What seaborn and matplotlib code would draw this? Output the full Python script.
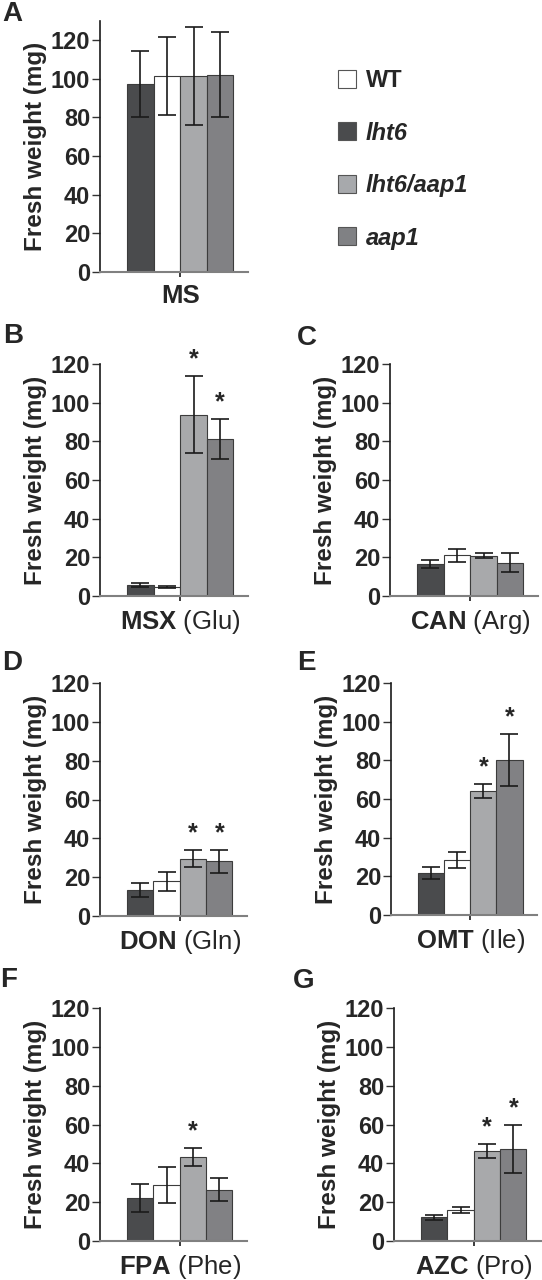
import numpy as np
import pandas as pd
import matplotlib
matplotlib.use("Agg")
import matplotlib.pyplot as plt
from matplotlib.patches import Patch
import seaborn as sns

# ---------------- data ----------------
bar_order = ["lht6", "WT", "lht6/aap1", "aap1"]
legend_order = ["WT", "lht6", "lht6/aap1", "aap1"]
colors = {"lht6": "#4a4b4d", "WT": "#ffffff", "lht6/aap1": "#a7a9ac", "aap1": "#808184"}

panel_letters = ["A", "B", "C", "D", "E", "F", "G"]
treatments = ["MS", "MSX", "CAN", "DON", "OMT", "FPA", "AZC"]
amino_acids = ["", "Glu", "Arg", "Gln", "Ile", "Phe", "Pro"]

ms_mean = [97.2, 101.3, 101.3, 102.0]
ms_err = [17.1, 20.3, 25.4, 22.0]
msx_mean = [5.7, 4.8, 93.8, 81.2]
msx_err = [1.2, 0.5, 20.0, 10.5]
can_mean = [16.7, 21.0, 20.9, 17.1]
can_err = [2.0, 3.5, 1.5, 4.9]
don_mean = [13.4, 17.9, 29.4, 28.2]
don_err = [3.7, 5.0, 4.4, 6.0]
omt_mean = [21.7, 28.4, 64.1, 80.2]
omt_err = [3.1, 4.3, 3.8, 13.4]
fpa_mean = [22.2, 28.8, 43.4, 26.5]
fpa_err = [7.1, 9.2, 4.7, 5.8]
azc_mean = [12.2, 16.0, 46.2, 47.4]
azc_err = [1.2, 1.7, 3.6, 12.5]

ms_sig = [False, False, False, False]
msx_sig = [False, False, True, True]
can_sig = [False, False, False, False]
don_sig = [False, False, True, True]
omt_sig = [False, False, True, True]
fpa_sig = [False, False, True, False]
azc_sig = [False, False, True, True]

means = [ms_mean, msx_mean, can_mean, don_mean, omt_mean, fpa_mean, azc_mean]
errs = [ms_err, msx_err, can_err, don_err, omt_err, fpa_err, azc_err]
sigs = [ms_sig, msx_sig, can_sig, don_sig, omt_sig, fpa_sig, azc_sig]
yticks = [0, 20, 40, 60, 80, 100, 120]

# ---------------- style ----------------
sns.set_style("ticks")
plt.rcParams["font.family"] = ["Liberation Sans", "DejaVu Sans"]
plt.rcParams["mathtext.fontset"] = "custom"
plt.rcParams["mathtext.rm"] = "Liberation Sans"
plt.rcParams["mathtext.bf"] = "Liberation Sans:bold"

W, H = 542, 1280
fig = plt.figure(figsize=(W / 100, H / 100), dpi=100)

# pixel layout: (left, right, y0 pixel, y_top pixel, ymax)
layout = [
    (100, 248, 272, 272 - 130 * 232 / 120, 130),
    (100, 248, 596, 364, 120),
    (390, 538, 596, 364, 120),
    (100, 247, 916, 683, 120),
    (391, 537, 915, 683, 120),
    (100, 247, 1241, 1008, 120),
    (394, 541, 1241, 1008, 120),
]
letter_pos = [(2, 21), (3, 343), (297, 345), (2, 670), (297, 670), (0, 987), (293, 988)]

for i in range(7):
    l, r, yb, yt, ymax = layout[i]
    ax = fig.add_axes([l / W, 1 - yb / H, (r - l) / W, (yb - yt) / H])
    df = pd.DataFrame({"genotype": bar_order, "weight": means[i]})
    sns.barplot(data=df, x="genotype", y="weight", hue="genotype",
                order=bar_order, hue_order=bar_order, palette=colors,
                width=1.0, dodge=False, errorbar=None, legend=False,
                edgecolor="#3c3c3c", linewidth=0.8, ax=ax)
    xpos = np.arange(len(bar_order))
    ax.errorbar(xpos, means[i], yerr=errs[i], fmt="none", ecolor="#1a1a1a",
                elinewidth=1.2, capsize=6.5, capthick=1.2, zorder=5)
    for j in range(4):
        if sigs[i][j]:
            ax.annotate("*", (xpos[j], means[i][j] + errs[i][j]),
                        xytext=(0, 12), textcoords="offset points",
                        ha="center", va="center", fontsize=18,
                        fontweight="bold", annotation_clip=False)
    ax.set_xlim(-1.52, 4.05)
    ax.set_ylim(0, ymax)
    ax.set_yticks(yticks)
    ax.set_yticklabels([str(v) for v in yticks], fontsize=17, fontweight="bold")
    ax.set_xticks([1.5])
    if amino_acids[i]:
        lab = r"$\mathbf{" + treatments[i] + r"}$ (" + amino_acids[i] + ")"
        ax.set_xticklabels([lab], fontsize=18.5, fontweight="normal")
    else:
        ax.set_xticklabels([treatments[i]], fontsize=18.5, fontweight="bold")
    ax.set_xlabel("")
    ax.set_ylabel("Fresh weight (mg)", fontsize=17.5, fontweight="bold", labelpad=3)
    for s in ["top", "right"]:
        ax.spines[s].set_visible(False)
    ax.spines["left"].set_color("#1a1a1a")
    ax.spines["left"].set_linewidth(1.2)
    ax.spines["bottom"].set_color("#808080")
    ax.spines["bottom"].set_linewidth(1.5)
    ax.tick_params(axis="y", direction="out", length=6, width=1.0, color="#333333", pad=1)
    ax.tick_params(axis="x", direction="out", length=3.5, width=1.2, color="#1a1a1a", pad=5)
    ax.patch.set_alpha(0)
    lx, ly = letter_pos[i]
    fig.text(lx / W, 1 - ly / H, panel_letters[i], fontsize=20, fontweight="bold",
             ha="left", va="baseline")

handles = [Patch(facecolor=colors[g], edgecolor="#555555", linewidth=0.8) for g in legend_order]
leg = fig.legend(handles, legend_order, loc="upper left",
                 bbox_to_anchor=(338 / W, 1 - 69 / H), frameon=False,
                 prop={"size": 17, "weight": "bold"},
                 handlelength=0.78, handleheight=0.78, handletextpad=0.4,
                 labelspacing=1.25, borderpad=0, borderaxespad=0)
for k, t in enumerate(leg.get_texts()):
    if legend_order[k] != "WT":
        t.set_fontstyle("italic")

fig.savefig("out.png", dpi=100)
